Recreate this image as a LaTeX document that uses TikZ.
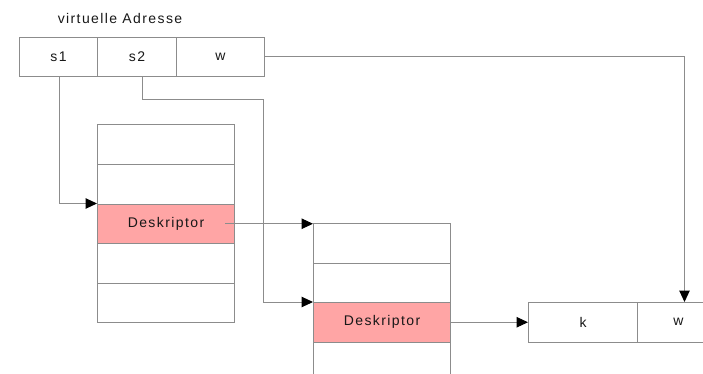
\documentclass[tikz,border=0pt]{standalone}
\usepackage{fontspec}
\setmainfont{Liberation Sans}[LetterSpace=10]
\usetikzlibrary{arrows.meta}
\definecolor{linegray}{HTML}{8C8C8C}
\definecolor{descpink}{HTML}{FFA5A5}
\definecolor{txt}{HTML}{181818}
\tikzset{
  cell/.style={draw=linegray, line width=1pt, rectangle, inner sep=0pt,
    text=txt, font=\fontsize{14}{16}\selectfont, anchor=north west},
  addr/.style={cell, minimum height=39pt},
  row/.style={cell, minimum width=137pt, minimum height=39.5pt},
  desc/.style={row, fill=descpink},
  link/.style={draw=linegray, line width=1pt,
    -{Triangle[length=11.5pt, width=10.5pt, color=black]}}
}
\begin{document}
\begin{tikzpicture}[x=1pt, y=-1pt]
\useasboundingbox (0,0) rectangle (703,374);
\clip (0,0) rectangle (703,374);

% virtual address: segment 1, segment 2, word
\node[text=txt, font=\fontsize{14}{16}\selectfont] (title) at (120,18) {virtuelle Adresse};
\node[addr, minimum width=78pt] (s1) at (19,37) {s1};
\node[addr, minimum width=79pt] (s2) at (97,37) {s2};
\node[addr, minimum width=88pt] (w)  at (176,37) {w};

% first segment table
\node[row]  (t1a) at (97,124.5) {};
\node[row]  (t1b) at (97,164)   {};
\node[desc] (d1)  at (97,203.5) {Deskriptor};
\node[row]  (t1d) at (97,243)   {};
\node[row]  (t1e) at (97,282.5) {};

% second segment table
\node[row]  (t2a) at (313,223)   {};
\node[row]  (t2b) at (313,262.5) {};
\node[desc] (d2)  at (313,302)   {Deskriptor};
\node[row]  (t2d) at (313,341.5) {};
\node[row]  (t2e) at (313,381)   {};

% physical address: frame and word
\node[addr, minimum width=109pt, minimum height=39.5pt] (k)  at (528,302) {k};
\node[addr, minimum width=82pt,  minimum height=39.5pt] (w2) at (637,302) {w};

% connectors
\coordinate (bend) at (263,100);
\path[link] ([xshift=1pt]s1.south) |- (d1.north west);
\path[link] ([xshift=5pt]s2.south) |- (bend) |- (d2.north west);
\path[link] ([xshift=-10pt]d1.east) -- (d1.east -| t2a.west);
\path[link] (d2.east) -- (k.west);
\path[link] (w.east) -| ([xshift=6pt]w2.north);
\end{tikzpicture}
\end{document}
